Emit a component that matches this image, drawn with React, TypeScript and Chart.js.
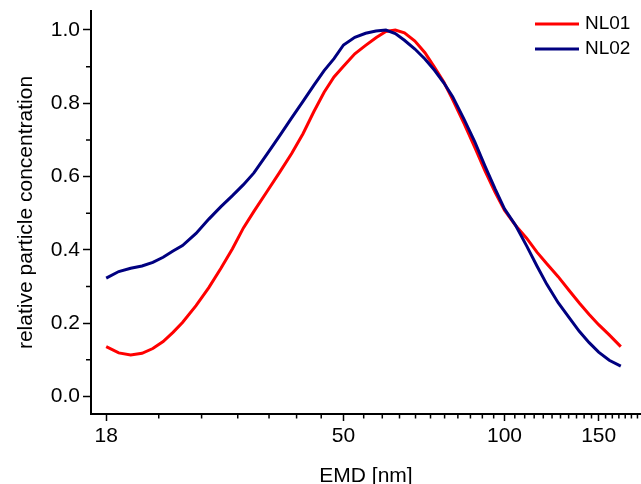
import React, { useEffect, useRef } from 'react';
import { Chart, registerables } from 'chart.js';

Chart.register(...registerables);

// ---- data ----
const emd = [18, 19, 20, 21, 22, 23, 24, 25, 26.5, 28, 29.5, 31, 32.5, 34, 36, 38, 40, 42, 44, 46, 48, 50, 52.5, 55, 57.5, 60, 62.5, 65, 68, 71, 74, 77, 80, 84, 88, 92, 96, 100, 105, 110, 115, 120, 126, 132, 138, 144, 150, 157, 165];
const nl01 = [0.136, 0.119, 0.113, 0.118, 0.131, 0.150, 0.175, 0.202, 0.248, 0.297, 0.350, 0.403, 0.460, 0.505, 0.560, 0.612, 0.663, 0.717, 0.777, 0.830, 0.872, 0.901, 0.935, 0.958, 0.979, 0.996, 1.000, 0.992, 0.970, 0.938, 0.898, 0.858, 0.810, 0.745, 0.680, 0.615, 0.558, 0.508, 0.466, 0.432, 0.394, 0.362, 0.327, 0.290, 0.255, 0.224, 0.196, 0.168, 0.136];
const nl02 = [0.323, 0.341, 0.350, 0.356, 0.366, 0.380, 0.397, 0.412, 0.445, 0.484, 0.518, 0.548, 0.578, 0.610, 0.662, 0.712, 0.760, 0.805, 0.849, 0.889, 0.922, 0.959, 0.980, 0.991, 0.997, 1.000, 0.990, 0.972, 0.948, 0.921, 0.890, 0.856, 0.818, 0.757, 0.695, 0.628, 0.567, 0.512, 0.466, 0.411, 0.356, 0.306, 0.256, 0.216, 0.178, 0.147, 0.121, 0.099, 0.083];

const seriesLabels = ['NL01', 'NL02'];
const seriesColors = ['#ff0000', '#000080'];

const xMajorTicks = [18, 50, 100, 150];
const xMinorTicks = [
  22.571, 27.143, 31.714, 36.286, 40.857, 45.429,
  54.545, 59.091, 63.636, 68.182, 72.727, 77.273, 81.818, 86.364, 90.909, 95.455,
  104.545, 109.091, 113.636, 118.182, 122.727, 127.273, 131.818, 136.364, 140.909, 145.455,
  154.545, 159.091, 163.636, 168.182, 172.727, 177.273,
];
const yMajorTicks = [0, 0.2, 0.4, 0.6, 0.8, 1.0];
const yMinorTicks = [0.1, 0.3, 0.5, 0.7, 0.9];

const X_MIN = 16.86;
const X_MAX = 180;
const Y_MIN = -0.0477;
const Y_MAX = 1.0518;

const FONT = '"Liberation Sans", Arial, Helvetica, sans-serif';

const minorTickPlugin = {
  id: 'minorTicks',
  afterDraw(chart: any) {
    const { ctx, chartArea, scales } = chart;
    const xs = scales.x;
    const ys = scales.y;
    ctx.save();
    ctx.strokeStyle = '#000';
    ctx.lineWidth = 1.5;
    ctx.beginPath();
    xMinorTicks.forEach((v) => {
      const px = xs.getPixelForValue(v);
      if (px < chartArea.left || px > chartArea.right + 0.5) return;
      ctx.moveTo(px, chartArea.bottom);
      ctx.lineTo(px, chartArea.bottom + 4.5);
    });
    yMinorTicks.forEach((v) => {
      const py = ys.getPixelForValue(v);
      ctx.moveTo(chartArea.left - 5, py);
      ctx.lineTo(chartArea.left, py);
    });
    ctx.stroke();
    ctx.restore();
  },
};

const cornerLegendPlugin = {
  id: 'cornerLegend',
  afterDraw(chart: any) {
    const { ctx, chartArea } = chart;
    ctx.save();
    ctx.font = '19px ' + FONT;
    ctx.textBaseline = 'middle';
    ctx.textAlign = 'left';
    chart.data.datasets.forEach((ds: any, i: number) => {
      const yy = chartArea.top + 13 + i * 25;
      const x0 = chartArea.right - 106;
      ctx.strokeStyle = ds.borderColor;
      ctx.lineWidth = 3;
      ctx.beginPath();
      ctx.moveTo(x0, yy);
      ctx.lineTo(x0 + 44, yy);
      ctx.stroke();
      ctx.fillStyle = '#000';
      ctx.fillText(ds.label, x0 + 50, yy);
    });
    ctx.restore();
  },
};

export default function App() {
  const ref = useRef<HTMLCanvasElement>(null);

  useEffect(() => {
    if (!ref.current) return;
    const chart = new Chart(ref.current, {
      type: 'line',
      data: {
        datasets: [
          {
            label: seriesLabels[0],
            data: emd.map((x, i) => ({ x, y: nl01[i] })),
            borderColor: seriesColors[0],
            backgroundColor: seriesColors[0],
            borderWidth: 3,
            pointRadius: 0,
            fill: false,
            tension: 0,
            order: 1,
          },
          {
            label: seriesLabels[1],
            data: emd.map((x, i) => ({ x, y: nl02[i] })),
            borderColor: seriesColors[1],
            backgroundColor: seriesColors[1],
            borderWidth: 3,
            pointRadius: 0,
            fill: false,
            tension: 0,
            order: 0,
          },
        ],
      },
      options: {
        responsive: false,
        animation: false,
        events: [],
        layout: { padding: { left: 0, top: 11, right: 0, bottom: 0 } },
        plugins: {
          legend: { display: false },
          tooltip: { enabled: false },
        },
        scales: {
          x: {
            type: 'logarithmic',
            min: X_MIN,
            max: X_MAX,
            afterBuildTicks: (scale: any) => {
              scale.ticks = xMajorTicks.map((v) => ({ value: v }));
            },
            afterFit: (scale: any) => {
              scale.height = 70;
              scale.paddingLeft = 0;
              scale.paddingRight = 0;
            },
            grid: {
              display: true,
              drawOnChartArea: false,
              drawTicks: true,
              tickLength: 7,
              tickWidth: 1.5,
              tickColor: '#000',
            },
            border: { display: true, color: '#000', width: 2 },
            ticks: {
              autoSkip: false,
              maxRotation: 0,
              padding: 3,
              color: '#000',
              font: { family: FONT, size: 21 },
              callback: (v: any) => String(v),
            },
            title: {
              display: true,
              text: 'EMD [nm]',
              color: '#000',
              font: { family: FONT, size: 21, lineHeight: 1.2 },
              padding: { top: 0, bottom: -5 },
            },
          },
          y: {
            type: 'linear',
            min: Y_MIN,
            max: Y_MAX,
            afterBuildTicks: (scale: any) => {
              scale.ticks = yMajorTicks.map((v) => ({ value: v }));
            },
            afterFit: (scale: any) => {
              scale.width = 91;
              scale.paddingTop = 0;
              scale.paddingBottom = 0;
            },
            grid: {
              display: true,
              drawOnChartArea: false,
              drawTicks: true,
              tickLength: 8,
              tickWidth: 1.5,
              tickColor: '#000',
            },
            border: { display: true, color: '#000', width: 2 },
            ticks: {
              autoSkip: false,
              padding: 3,
              color: '#000',
              font: { family: FONT, size: 21 },
              callback: (v: any) => Number(v).toFixed(1),
            },
            title: {
              display: true,
              text: 'relative particle concentration',
              color: '#000',
              font: { family: FONT, size: 21, lineHeight: 1.2 },
              padding: { top: 13.5, bottom: 0 },
            },
          },
        },
      },
      plugins: [minorTickPlugin, cornerLegendPlugin],
    } as any);
    return () => chart.destroy();
  }, []);

  return (
    <div style={{ position: 'absolute', left: 0, top: 0, width: 641, height: 484, background: '#fff' }}>
      <canvas ref={ref} width={641} height={484} style={{ display: 'block' }} />
    </div>
  );
}
